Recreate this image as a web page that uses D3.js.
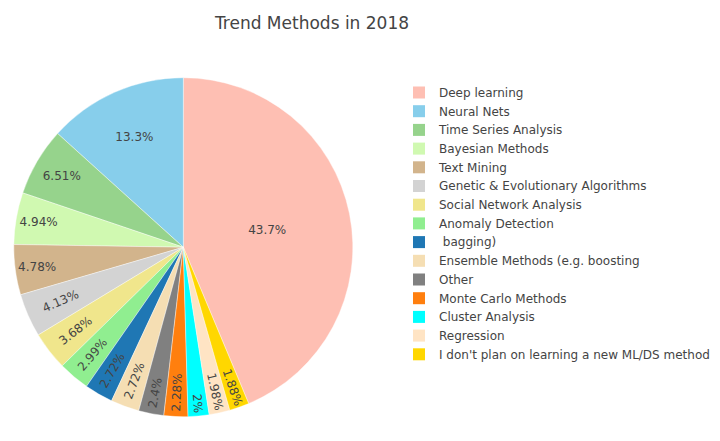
<!DOCTYPE html>
<meta charset="utf-8">
<script src="https://d3js.org/d3.v7.min.js"></script>
<style>
  body { margin: 0; background: #fff; }
  text { font-family: Verdana, "DejaVu Sans", sans-serif; fill: #444; }
</style>
<body>
<div id="chart"></div>
<script>

  // slice labels, in the order the legend lists them
  var labels = ["Deep learning", "Neural Nets", "Time Series Analysis", "Bayesian Methods",
    "Text Mining", "Genetic & Evolutionary Algorithms", "Social Network Analysis",
    "Anomaly Detection", " bagging)", "Ensemble Methods (e.g. boosting", "Other",
    "Monte Carlo Methods", "Cluster Analysis", "Regression",
    "I don't plan on learning a new ML/DS method"];

  // share of respondents (%)
  var values = [43.7, 13.3, 6.51, 4.94, 4.78, 4.13, 3.68, 2.99, 2.72, 2.72, 2.4, 2.28, 2, 1.98, 1.88];

  var colors = ["#FEBFB3", "#87CEEB", "#96D38C", "#D0F9B1", "#D2B48C", "#D3D3D3", "#F0E68C",
    "#90EE90", "#1F77B4", "#F5DEB3", "#808080", "#FF7F0E", "#00FFFF", "#FFE4C4", "#FFD700"];

  var title = "Trend Methods in 2018";

  var width = 720, height = 441;
  var cx = 183.3, cy = 247.2, radius = 169.5;

  var svg = d3.select("#chart")
    .append("svg")
    .attr("width", width)
    .attr("height", height);

  // title
  svg.append("text")
    .attr("x", 312)
    .attr("y", 29)
    .attr("text-anchor", "middle")
    .style("font-size", "17px")
    .text(title);

  var total = d3.sum(values);
  var first = values[0] / total * 2 * Math.PI;

  // first slice ends at 12 o'clock, the rest run counterclockwise
  var pie = d3.pie()
    .sort(null)
    .value(function (d) { return d; })
    .startAngle(first)
    .endAngle(first - 2 * Math.PI);

  var arcs = pie(values);

  var arc = d3.arc()
    .innerRadius(0)
    .outerRadius(radius);

  var g = svg.append("g")
    .attr("transform", "translate(" + cx + "," + cy + ")");

  g.selectAll("path")
    .data(arcs)
    .enter()
    .append("path")
    .attr("d", arc)
    .attr("fill", function (d, i) { return colors[i]; })
    .attr("stroke", "#fff")
    .attr("stroke-width", 0.4);

  var fmt = d3.format(".3~r");

  // fit the percentage text inside its slice (horizontal, radial or tangential)
  function fitText(bb, d) {
    var half = Math.abs(d.endAngle - d.startAngle) / 2;
    var mid = (d.startAngle + d.endAngle) / 2;
    var midDeg = mid * 180 / Math.PI;
    var rIns = Math.min(1 / (1 + 1 / Math.sin(half)), 0.5);
    var diam = Math.sqrt(bb.width * bb.width + bb.height * bb.height);
    var t = { scale: rIns * radius * 2 / diam, rCenter: 1 - rIns, rotate: 0 };
    if (t.scale >= 1) return t;

    var a = bb.width / bb.height;
    var qr = a + 1 / (2 * Math.tan(half));
    var hr = radius * Math.min(1 / (Math.sqrt(qr * qr + 0.5) + qr), 1 / (Math.sqrt(a * a + 0.5) + a));
    var rad = {
      scale: hr * 2 / bb.height,
      rCenter: Math.cos(hr / radius) - hr * a / radius,
      rotate: (midDeg + 720) % 180 - 90
    };

    var qt = 1 / a + 1 / (2 * Math.tan(half));
    var ht = radius * Math.min(1 / (Math.sqrt(qt * qt + 0.5) + qt), 1 / (Math.sqrt(1 / a / a + 0.5) + 1 / a));
    var tan = {
      scale: ht * 2 / bb.width,
      rCenter: Math.cos(ht / radius) - ht / a / radius,
      rotate: (midDeg + 810) % 180 - 90
    };

    var rot = tan.scale > rad.scale ? tan : rad;
    if (rot.scale > t.scale) return rot;
    return t;
  }

  g.selectAll("text.pct")
    .data(arcs)
    .enter()
    .append("text")
    .attr("class", "pct")
    .style("font-size", "12px")
    .text(function (d) { return fmt(d.value / total * 100) + "%"; })
    .attr("transform", function (d) {
      var bb = this.getBBox();
      var t = fitText(bb, d);
      var mid = (d.startAngle + d.endAngle) / 2;
      var x = radius * Math.sin(mid) * t.rCenter;
      var y = -radius * Math.cos(mid) * t.rCenter;
      var s = Math.min(1, t.scale);
      return "translate(" + x + "," + y + ")rotate(" + t.rotate + ")scale(" + s + ")" +
        "translate(" + (-(bb.x + bb.width / 2)) + "," + (-(bb.y + bb.height / 2)) + ")";
    });

  // legend
  var legend = svg.append("g")
    .attr("transform", "translate(399,92.5)");

  var item = legend.selectAll("g")
    .data(labels)
    .enter()
    .append("g")
    .attr("transform", function (d, i) { return "translate(0," + (i * 18.7) + ")"; });

  item.append("rect")
    .attr("x", 14)
    .attr("y", -6)
    .attr("width", 12)
    .attr("height", 12)
    .attr("fill", function (d, i) { return colors[i]; });

  item.append("text")
    .attr("x", 40)
    .attr("y", 4.3)
    .style("font-size", "12px")
    .style("white-space", "pre")
    .text(function (d) { return d; });

</script>
</body>
